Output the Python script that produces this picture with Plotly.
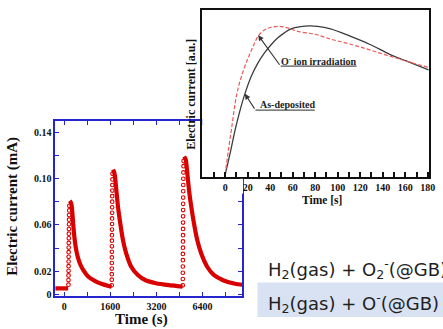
import plotly.graph_objects as go

W, H = 443, 329

# ---------------- main chart data (time axis units, current in mA) ----------------
base1_t = [-308, 140]
base1_i = [0.0053, 0.0053]

rise1_t = [150, 151, 152, 153, 154, 155, 156, 157, 158, 160, 162, 164, 166, 168, 170, 173, 176, 180]
rise1_i = [0.0085, 0.0125, 0.0165, 0.0205, 0.0245, 0.0285, 0.0325, 0.0365, 0.0405, 0.0445,
           0.0485, 0.0525, 0.0565, 0.0605, 0.0645, 0.0685, 0.0725, 0.0765]
decay1_t = [195, 230, 263, 290, 318, 376, 430, 489, 570, 660, 831, 1060, 1289, 1573, 1645]
decay1_i = [0.0808, 0.0795, 0.0765, 0.0690, 0.0595, 0.0453, 0.0370, 0.0310, 0.0255, 0.0212,
            0.0155, 0.0118, 0.0093, 0.0072, 0.0068]

rise2_t = [1650, 1651, 1652, 1653, 1654, 1655, 1656, 1657, 1658, 1659, 1660,
           1661, 1662, 1663, 1664, 1665, 1667, 1669, 1671, 1673, 1676]
rise2_i = [0.0080, 0.0128, 0.0176, 0.0224, 0.0272, 0.0320, 0.0368, 0.0416, 0.0464, 0.0512,
           0.0560, 0.0608, 0.0656, 0.0704, 0.0752, 0.0800, 0.0848, 0.0896, 0.0944, 0.0992, 0.1040]
decay2_t = [1699, 1754, 1812, 1870, 1949, 2041, 2154, 2325, 2554, 2838, 3180, 3634, 4034, 4105]
decay2_i = [0.1077, 0.1034, 0.0893, 0.0750, 0.0609, 0.0467, 0.0353, 0.0240, 0.0169, 0.0121,
            0.0098, 0.0081, 0.0070, 0.0068]

rise3_t = [4112, 4113, 4114, 4115, 4116, 4117, 4118, 4119, 4120, 4121, 4122,
           4123, 4124, 4125, 4126, 4127, 4129, 4131, 4134, 4137, 4141]
rise3_i = [0.0080, 0.0134, 0.0188, 0.0242, 0.0296, 0.0350, 0.0404, 0.0458, 0.0512, 0.0566,
           0.0620, 0.0674, 0.0728, 0.0782, 0.0836, 0.0890, 0.0944, 0.0998, 0.1052, 0.1106, 0.1150]
decay3_t = [4161, 4216, 4274, 4332, 4411, 4503, 4616, 4752, 4958, 5187, 5529, 5925, 6212]
decay3_i = [0.1190, 0.1162, 0.1034, 0.0893, 0.0750, 0.0609, 0.0467, 0.0353, 0.0240, 0.0169,
            0.0121, 0.0093, 0.0084]

main_xtick_vals = [0, 800, 1600, 2400, 3200, 4000, 4800, 5600]
main_xtick_text = ["0", "", "1600", "", "3200", "", "6400", ""]
main_ytick_vals = [0, 0.02, 0.04, 0.06, 0.08, 0.10, 0.12, 0.14]
main_ytick_text = ["0", "0.02", "", "0.06", "", "0.10", "", "0.14"]

# ---------------- inset data (time s, current a.u.) ----------------
asdep_t = [0, 4.4, 8.8, 13.2, 17.5, 23.4, 29.3, 35.1, 41, 46.8, 52.6, 58.5, 67, 75, 82,
           93.6, 111, 128.7, 146.2, 160.8, 180.7]
asdep_v = [0.018, 0.160, 0.313, 0.444, 0.553, 0.673, 0.760, 0.826, 0.880, 0.924, 0.957,
           0.983, 0.998, 1.003, 1.000, 0.983, 0.935, 0.880, 0.815, 0.771, 0.712]
irr_t = [0, 2.9, 5.9, 8.8, 11.7, 16.1, 20.5, 24.9, 29.3, 35.1, 41, 48.3, 55.6, 64.4, 80.4,
         95, 109.6, 124.3, 139, 153.5, 165.3, 181]
irr_v = [0.018, 0.182, 0.335, 0.488, 0.597, 0.706, 0.793, 0.869, 0.935, 0.978, 0.994, 1.000,
         0.990, 0.967, 0.946, 0.913, 0.885, 0.854, 0.819, 0.787, 0.760, 0.728]

inset_tick_vals = [-10, 0, 10, 20, 30, 40, 50, 60, 70, 80, 90, 100, 110, 120, 130, 140, 150, 160, 170, 180]
inset_tick_text = ["", "0", "", "20", "", "40", "", "60", "", "80", "", "100", "", "120", "",
                   "140", "", "160", "", "180"]

RED = "#d90000"
BLUE = "#2626cf"
SERIF = "Liberation Serif"

fig = go.Figure()

# main chart: baseline + decays as thick lines, rises as open-circle markers
for tt, ii in [(base1_t, base1_i), (decay1_t, decay1_i), (decay2_t, decay2_i), (decay3_t, decay3_i)]:
    fig.add_trace(go.Scatter(x=tt, y=ii, mode="lines", line=dict(color=RED, width=4.2, shape="spline", smoothing=0.6),
                             xaxis="x", yaxis="y", showlegend=False, hoverinfo="skip"))
for tt, ii in [(rise1_t, rise1_i), (rise2_t, rise2_i), (rise3_t, rise3_i)]:
    fig.add_trace(go.Scatter(x=tt, y=ii, mode="markers",
                             marker=dict(symbol="circle-open", size=3.6, color=RED, line=dict(width=1.1, color=RED)),
                             xaxis="x", yaxis="y", showlegend=False, hoverinfo="skip"))

# inset
fig.add_trace(go.Scatter(x=asdep_t, y=asdep_v, mode="lines", line=dict(color="#3c3c3c", width=1.3, shape="spline"),
                         xaxis="x2", yaxis="y2", showlegend=False, hoverinfo="skip"))
fig.add_trace(go.Scatter(x=irr_t, y=irr_v, mode="lines", line=dict(color="#ee5a5a", width=1.2, dash="4px,2px", shape="spline"),
                         xaxis="x2", yaxis="y2", showlegend=False, hoverinfo="skip"))

tickfont = dict(family=SERIF, size=10, color="#111", weight="bold")

fig.update_layout(
    width=W, height=H,
    margin=dict(l=0, r=0, t=0, b=0),
    paper_bgcolor="white", plot_bgcolor="white",
    xaxis=dict(domain=[56 / W, 245.5 / W], range=[-308, 6171], anchor="y",
               showline=True, linecolor=BLUE, linewidth=1.5, mirror="ticks",
               ticks="inside", ticklen=4, tickwidth=1, tickcolor=BLUE,
               tickvals=main_xtick_vals, ticktext=main_xtick_text, tickfont=tickfont,
               showgrid=False, zeroline=False),
    yaxis=dict(domain=[1 - 299.5 / H, 1 - 122.3 / H], range=[-0.0011, 0.1497], anchor="x",
               showline=True, linecolor=BLUE, linewidth=1.5, mirror="ticks",
               ticks="inside", ticklen=4, tickwidth=1, tickcolor=BLUE,
               tickvals=main_ytick_vals, ticktext=main_ytick_text, tickfont=tickfont,
               showgrid=False, zeroline=False),
    xaxis2=dict(domain=[205 / W, 435 / W], range=[-20.4, 181.2], anchor="y2",
                showline=True, linecolor="#111", linewidth=2, mirror=True,
                ticks="inside", ticklen=5, tickwidth=1.5, tickcolor="#111",
                tickvals=inset_tick_vals, ticktext=inset_tick_text, tickfont=tickfont,
                showgrid=False, zeroline=False),
    yaxis2=dict(domain=[1 - 179.5 / H, 1 - 10.5 / H], range=[0, 1.106], anchor="x2",
                showline=True, linecolor="#111", linewidth=2, mirror=True,
                ticks="", showticklabels=False, showgrid=False, zeroline=False),
)

ann = []
def ptext(text, px, py, size, angle=0, family=SERIF, bold=True, xanchor="center", color="#111"):
    ann.append(dict(text=text, x=px / W, y=1 - py / H, xref="paper", yref="paper",
                    xanchor=xanchor, yanchor="middle", showarrow=False, textangle=angle,
                    font=dict(family=family, size=size, color=color, weight="bold" if bold else "normal")))

ptext("Electric current (mA)", 12.5, 209, 15, angle=-90)
ptext("Time (s)", 143, 323, 15)
ptext("Electric current [a.u.]", 193.5, 95, 12, angle=-90)
ptext("Time [s]", 326.7, 202.3, 11.5)
ptext("H<sub>2</sub>(gas) + O<sub>2</sub><sup>-</sup>(@GB)", 269.5, 272.5, 18, family="DejaVu Sans", bold=False, xanchor="left", color="#1f1f1f")
ptext("H<sub>2</sub>(gas) + O<sup>-</sup>(@GB)", 269.5, 306.5, 18, family="DejaVu Sans", bold=False, xanchor="left", color="#1f1f1f")

# inset callouts
lab_font = dict(family=SERIF, size=10, color="#222", weight="bold")
ann.append(dict(text="O<sup>-</sup> ion irradiation", x=83.2, y=0.77, xref="x2", yref="y2",
                showarrow=False, font=lab_font, xanchor="center", yanchor="middle"))
ann.append(dict(text="As-deposited", x=55.6, y=0.481, xref="x2", yref="y2",
                showarrow=False, font=lab_font, xanchor="center", yanchor="middle"))
ann.append(dict(text="", x=29.3, y=0.941, ax=49.3, ay=0.736, xref="x2", yref="y2", axref="x2", ayref="y2",
                showarrow=True, arrowhead=2, arrowsize=1, arrowwidth=1.1, arrowcolor="#333", standoff=0))
ann.append(dict(text="", x=17.5, y=0.553, ax=26.9, ay=0.445, xref="x2", yref="y2", axref="x2", ayref="y2",
                showarrow=True, arrowhead=2, arrowsize=1, arrowwidth=1.1, arrowcolor="#333", standoff=0))

shapes = [
    dict(type="rect", xref="paper", yref="paper", x0=261 / W, x1=1.02, y0=1 - 321 / H, y1=1 - 286 / H,
         fillcolor="#d9e2f3", line=dict(width=0), layer="below"),
    dict(type="line", xref="x2", yref="y2", x0=49.3, x1=116.8, y0=0.736, y1=0.736,
         line=dict(color="#555", width=1.3)),
    dict(type="line", xref="x2", yref="y2", x0=26.9, x1=79.6, y0=0.445, y1=0.445,
         line=dict(color="#555", width=1.3)),
    # white patch: inset background hides this short stretch of the main frame
    dict(type="rect", xref="paper", yref="paper", x0=243.6 / W, x1=246.4 / W, y0=1 - 196 / H, y1=1 - 181 / H,
         fillcolor="white", line=dict(width=0), layer="above"),
]

fig.update_layout(annotations=ann, shapes=shapes)
fig.write_html("out.html")
